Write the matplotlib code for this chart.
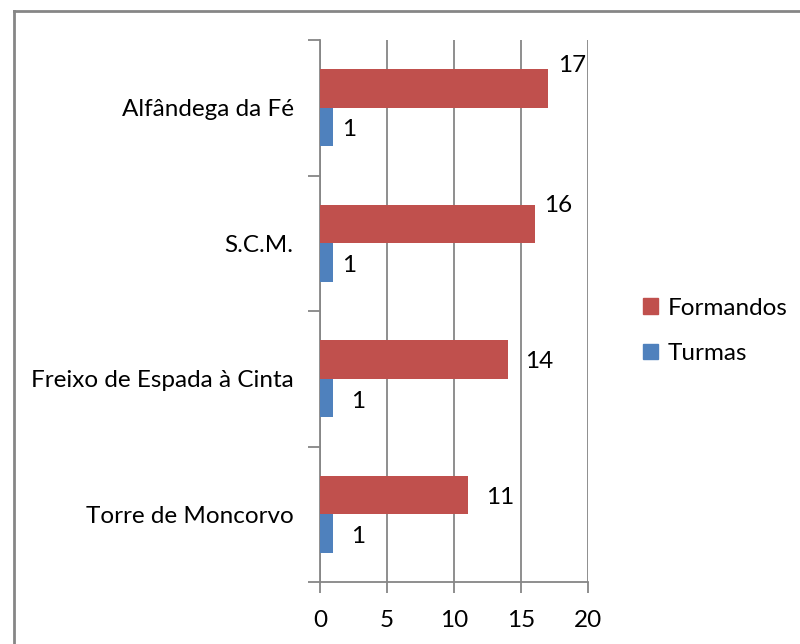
import matplotlib
matplotlib.use("Agg")
import matplotlib.pyplot as plt
from matplotlib.lines import Line2D
import numpy as np

categories = ["Torre de Moncorvo", "Freixo de Espada à Cinta", "S.C.M.", "Alfândega da Fé"]
formandos = [11, 14, 16, 17]
turmas = [1, 1, 1, 1]
xticks = [0, 5, 10, 15, 20]

# label offsets (pixels, y up) relative to bar end / bar centre
form_off = [(18, -2), (17, -2), (9, 19), (10, 23)]
turm_off = [(18, -3), (18, -4), (9, -3), (9, -3)]

RED = "#C0504D"
BLUE = "#4F81BD"
GRAY = "#868686"
FS = 17.5

plt.rcParams['font.family'] = ['Lato', 'DejaVu Sans']

fig = plt.figure(figsize=(8.0, 6.44), dpi=100)
ax = fig.add_axes([0.4, 1 - 582 / 644, 0.3354, (582 - 40) / 644])

y = np.arange(len(categories))
h = 0.284
ax.barh(y + h / 2, formandos, height=h, color=RED, label="Formandos", zorder=3)
ax.barh(y - h / 2, turmas, height=h, color=BLUE, label="Turmas", zorder=3)

for i, v in enumerate(formandos):
    ax.annotate(str(v), (v, y[i] + h / 2), xytext=form_off[i], textcoords='offset pixels',
                ha='left', va='center', fontsize=FS)
for i, v in enumerate(turmas):
    ax.annotate(str(v), (v, y[i] - h / 2), xytext=turm_off[i], textcoords='offset pixels',
                ha='left', va='center', fontsize=FS)

ax.set_xlim(0, 20)
ax.set_ylim(-0.5, len(categories) - 0.5)
ax.set_xticks(xticks)
ax.set_xticklabels([str(t) for t in xticks], fontsize=FS)
ax.set_yticks(y)
ax.set_yticklabels(categories, fontsize=FS)
ax.set_yticks(np.arange(len(categories) + 1) - 0.5, minor=True)
ax.tick_params(axis='y', which='major', length=0, pad=19)
ax.tick_params(axis='y', which='minor', length=9, width=1.3, color=GRAY)
ax.tick_params(axis='x', which='major', length=8, width=1.3, color=GRAY, pad=12)
ax.grid(axis='x', color=GRAY, linewidth=1.3, zorder=0)
for s in ['top', 'right']:
    ax.spines[s].set_visible(False)
for s in ['left', 'bottom']:
    ax.spines[s].set_color(GRAY)
    ax.spines[s].set_linewidth(1.3)

handles = [plt.Rectangle((0, 0), 1, 1, color=RED), plt.Rectangle((0, 0), 1, 1, color=BLUE)]
fig.legend(handles, ["Formandos", "Turmas"], loc='center left',
           bbox_to_anchor=(643 / 800, 1 - 331 / 644), frameon=False, fontsize=FS,
           borderpad=0, borderaxespad=0,
           handlelength=0.62, handleheight=0.62, handletextpad=0.4, labelspacing=1.0)

# outer chart border (top and left visible)
fig.add_artist(Line2D([13.5 / 800, 13.5 / 800], [0, 1 - 10.5 / 644], transform=fig.transFigure,
                      color=GRAY, linewidth=2))
fig.add_artist(Line2D([13.5 / 800, 1], [1 - 10.5 / 644, 1 - 10.5 / 644], transform=fig.transFigure,
                      color=GRAY, linewidth=2))

fig.savefig("out.png", dpi=100)
